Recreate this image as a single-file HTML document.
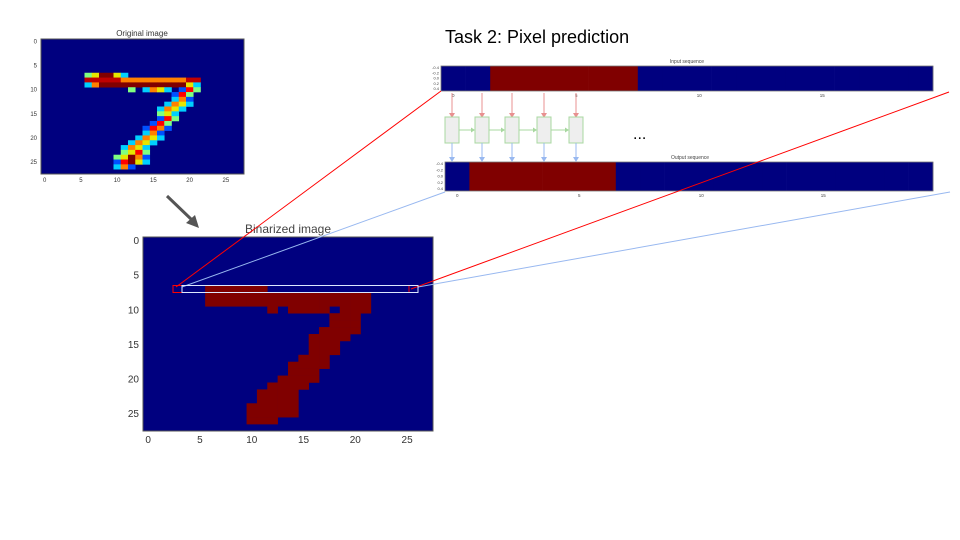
<!DOCTYPE html>
<html><head><meta charset="utf-8"><style>
body{margin:0;background:#fff;width:960px;height:540px;overflow:hidden}
svg{display:block;font-family:"Liberation Sans",sans-serif}
</style></head><body>
<svg id="s" width="960" height="540" viewBox="0 0 960 540" xmlns="http://www.w3.org/2000/svg">
<text x="445" y="43" font-size="18" fill="#000">Task 2: Pixel prediction</text>
<text x="142" y="36" font-size="8" fill="#333" text-anchor="middle">Original image</text>
<text x="288" y="233" font-size="12" fill="#444" text-anchor="middle">Binarized image</text>
<text x="687" y="63" font-size="5" fill="#444" text-anchor="middle">Input sequence</text>
<text x="690" y="159" font-size="5" fill="#444" text-anchor="middle">Output sequence</text>
<g id="orig"></g>
<g id="bin"></g>
<g id="seq"></g>
<g id="ov"></g>
</svg>
<script>
// binarized mask: per row list of [startCol,endCol] runs
const maskRows=[7,8,9,10,11,12,13,14,15,16,17,18,19,20,21,22,23,24,25,26];
const maskRuns=[[[6,11]],[[6,21]],[[6,21]],[[12,12],[14,17],[19,21]],[[18,20]],[[18,20]],[[17,20]],[[16,19]],[[16,18]],[[16,18]],[[15,17]],[[14,17]],[[14,16]],[[13,16]],[[12,15]],[[11,14]],[[11,14]],[[10,14]],[[10,14]],[[10,12]]];
const axisTicks=[0,5,10,15,20,25];
const inputSeq=[0,0,1,1,1,1,1,1,0,0,0,0,0,0,0,0,0,0,0,0];
const outputSeq=[0,1,1,1,1,1,1,0,0,0,0,0,0,0,0,0,0,0,0,0];
const seqTicks=[0,5,10,15];
const seqYTicks=["-0.4","-0.2","0.0","0.2","0.4"];
const NS="http://www.w3.org/2000/svg";
function mk(p,t,a){const e=document.createElementNS(NS,t);for(const k in a)e.setAttribute(k,a[k]);p.appendChild(e);return e;}
function imgPlot(g,X0,Y0,W,H,fs,colorFn,named){
  const sx=c=>X0+(c+0.5)*W/28, sy=r=>Y0+(r+0.5)*H/28, cw=W/28, rh=H/28;
  let bg=mk(g,'rect',{x:X0,y:Y0,width:W,height:H,fill:'#00007f',stroke:'#555','stroke-width':1});
  
  
  maskRows.forEach((r,i)=>maskRuns[i].forEach(([a,b])=>{for(let c=a;c<=b;c++){
    let cell=mk(g,'rect',{x:sx(c)-cw/2,y:sy(r)-rh/2,width:cw+0.3,height:rh+0.3,fill:colorFn(r,c,a,b)});
    
    
  }}));
  axisTicks.forEach(t=>{
    let xl=mk(g,'text',{x:sx(t),y:Y0+H+fs+2,'font-size':fs,fill:'#333','text-anchor':'middle'});xl.textContent=t;
    
    
    let yl=mk(g,'text',{x:X0-4,y:sy(t)+fs*0.35,'font-size':fs,fill:'#333','text-anchor':'end'});yl.textContent=t;
    
    
  });
}
const pal=['#800000','#ff0000','#ff8000','#e6e600','#00d0ff','#80ff80','#0050ff'];
imgPlot(document.getElementById('orig'),41,39,203,135,6,(r,c,a,b)=>{
  if(r===8)return c>=11&&c<=19?'#ff8000':'#c00000';
  if(c===a||c===b)return pal[4+((r+c)%3)];
  if(c===a+1||c===b-1)return pal[1+((r+c)%3)];
  return '#800000';});
imgPlot(document.getElementById('bin'),143,237,290,194,10,()=>'#800000');
// sequences
function seqPlot(g,X0,Y0,W,H,data){
  const cw=W/data.length, sx=i=>X0+(i+0.5)*cw;
  data.forEach((v,i)=>{let r=mk(g,'rect',{x:X0+i*cw,y:Y0,width:cw+0.3,height:H,fill:v?'#800000':'#00007f'});
    
    });
  mk(g,'rect',{x:X0,y:Y0,width:W,height:H,fill:'none',stroke:'#777','stroke-width':0.8});
  seqTicks.forEach(t=>{let l=mk(g,'text',{x:sx(t),y:Y0+H+6,'font-size':4.5,fill:'#444','text-anchor':'middle'});l.textContent=t;
    
    });
  seqYTicks.forEach((t,i)=>{let l=mk(g,'text',{x:X0-2,y:Y0+3+i*(H-4)/4,'font-size':4,fill:'#444','text-anchor':'end'});l.textContent=t;
    
    });
}
const sg=document.getElementById('seq');
seqPlot(sg,441,66,492,25,inputSeq);
seqPlot(sg,445,162,488,29,outputSeq);
const boxX=[445,475,505,537,569];
boxX.forEach((x,i)=>{
  const cx=x+7;
  mk(sg,'line',{x1:cx,y1:93,x2:cx,y2:113,stroke:'#e89090','stroke-width':1});
  mk(sg,'path',{d:`M${cx-3} 113 L${cx+3} 113 L${cx} 118 Z`,fill:'#e89090'});
  let b=mk(sg,'rect',{x:x,y:117,width:14,height:26,fill:'#eee',stroke:'#a8d8a0','stroke-width':1});
  
  
  mk(sg,'line',{x1:cx,y1:143,x2:cx,y2:158,stroke:'#98b8f0','stroke-width':1});
  mk(sg,'path',{d:`M${cx-3} 157 L${cx+3} 157 L${cx} 162 Z`,fill:'#98b8f0'});
  if(i<boxX.length-1){const nx=boxX[i+1];
    mk(sg,'line',{x1:x+14,y1:130,x2:nx-3,y2:130,stroke:'#a8d8a0','stroke-width':1});
    mk(sg,'path',{d:`M${nx-4} 127.5 L${nx} 130 L${nx-4} 132.5 Z`,fill:'#a8d8a0'});}
});
let d=mk(sg,'text',{x:633,y:139,'font-size':16,fill:'#000'});d.textContent='...';


const ov=document.getElementById('ov');
mk(ov,'line',{x1:441,y1:91,x2:176,y2:287,stroke:'#f00','stroke-width':1});
mk(ov,'line',{x1:949,y1:92,x2:411,y2:289,stroke:'#f00','stroke-width':1});
mk(ov,'line',{x1:445,y1:192,x2:182,y2:287,stroke:'#98b8f0','stroke-width':1});
mk(ov,'line',{x1:950,y1:192,x2:418,y2:287,stroke:'#98b8f0','stroke-width':1});
mk(ov,'rect',{x:173,y:285.5,width:9,height:7,fill:'none',stroke:'#f00','stroke-width':1});
mk(ov,'line',{x1:409,y1:286,x2:409,y2:292,stroke:'#f00','stroke-width':1});
let wb=mk(ov,'rect',{x:182,y:285.5,width:236,height:7,fill:'none',stroke:'#dde8ff','stroke-width':1});


mk(ov,'line',{x1:167,y1:196,x2:192,y2:220,stroke:'#555','stroke-width':3});
mk(ov,'path',{d:'M186 223 L199 228 L195 215 Z',fill:'#555'});
</script>
</body></html>
